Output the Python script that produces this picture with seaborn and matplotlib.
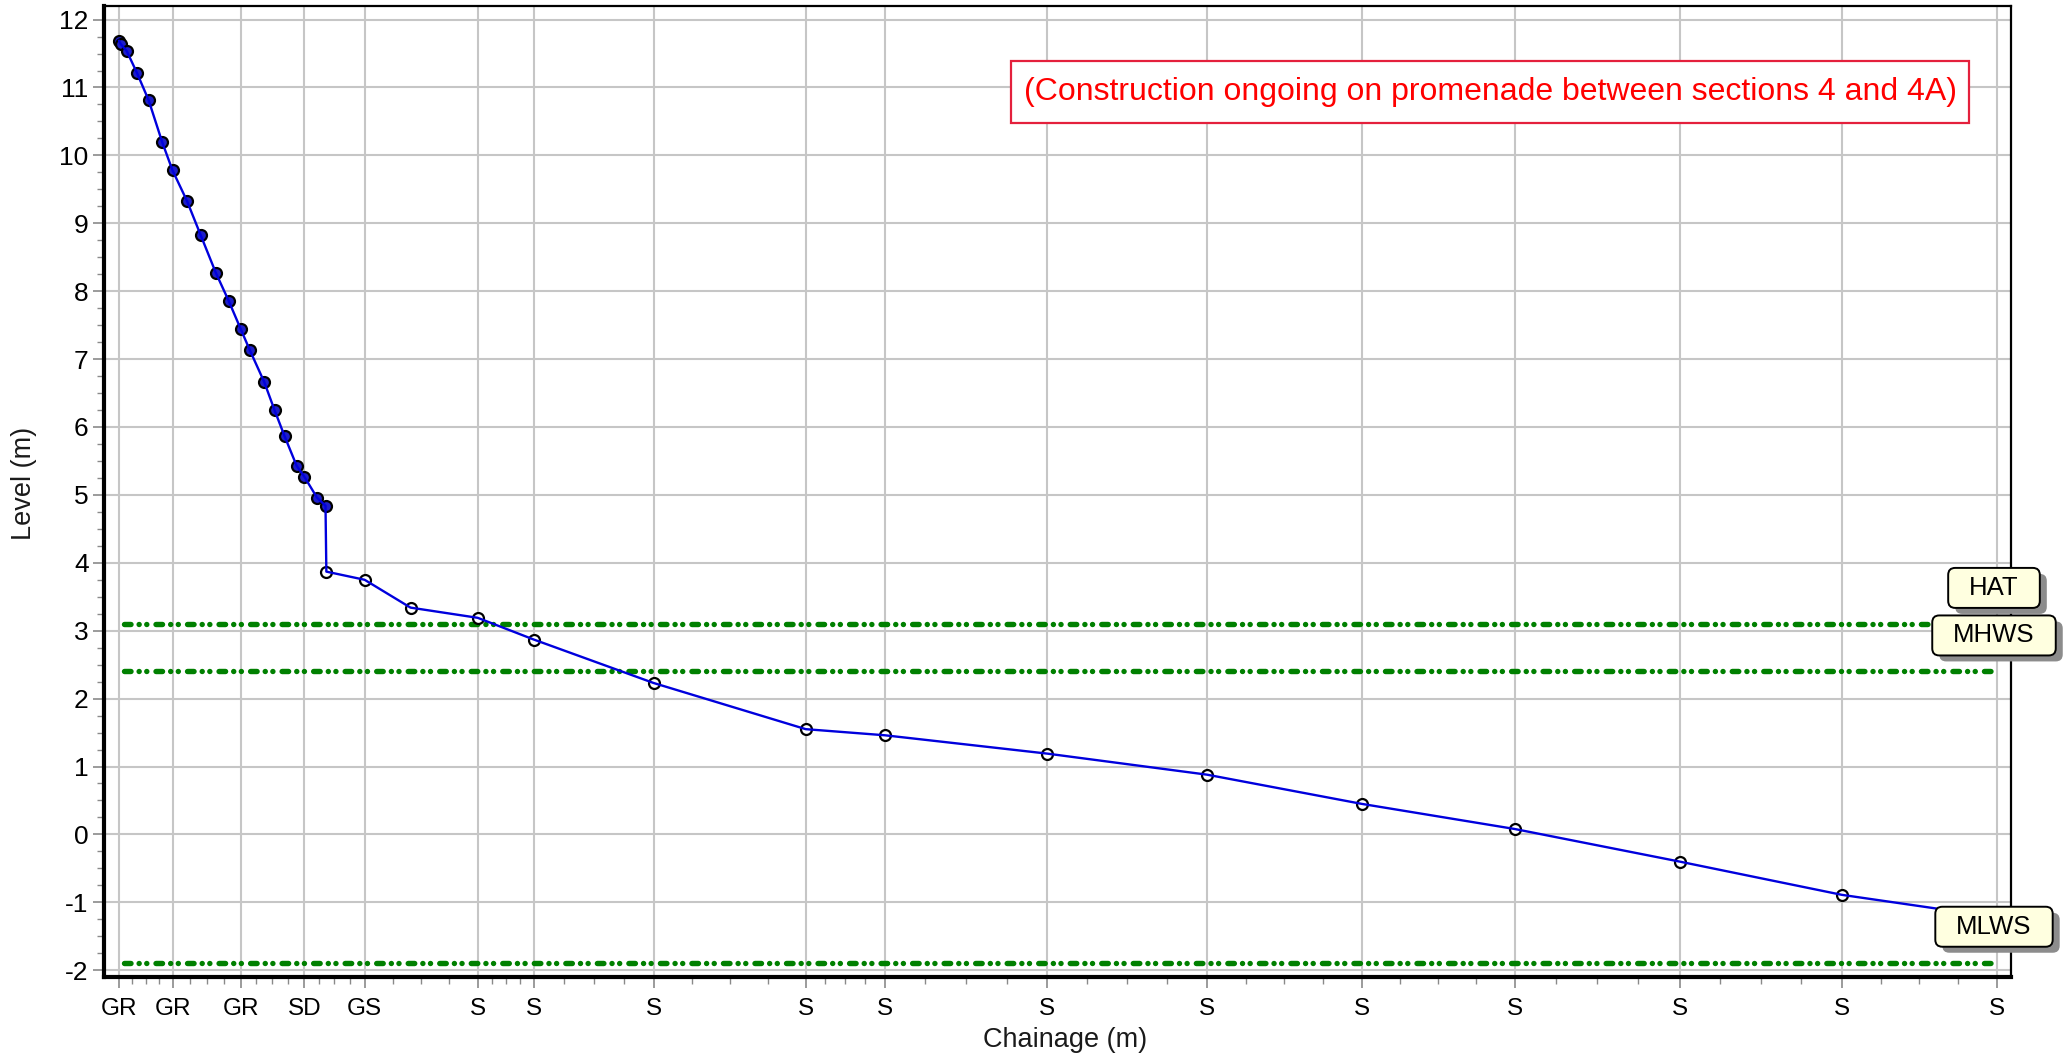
import numpy as np
import pandas as pd
import matplotlib
matplotlib.use("Agg")
import matplotlib.pyplot as plt
import seaborn as sns
from matplotlib.ticker import FixedLocator, MultipleLocator
from matplotlib.patches import FancyBboxPatch, Rectangle
from matplotlib.transforms import IdentityTransform

# ---------------- data ----------------
chainage = [0.0, 0.1, 0.45, 1.05, 1.75, 2.55, 3.15, 4.0, 4.8, 5.7, 6.45, 7.15, 7.7,
            8.55, 9.15, 9.75, 10.45, 10.9, 11.65, 12.15, 12.2, 14.45, 17.15, 21.1,
            24.4, 31.45, 40.4, 45.05, 54.6, 64.0, 73.1, 82.1, 91.8, 101.35, 110.45]
level = [11.69, 11.64, 11.54, 11.22, 10.81, 10.19, 9.78, 9.33, 8.83, 8.27, 7.86, 7.45,
         7.13, 6.66, 6.25, 5.86, 5.43, 5.27, 4.96, 4.84, 3.87, 3.75, 3.34, 3.19, 2.87,
         2.23, 1.55, 1.46, 1.19, 0.88, 0.45, 0.08, -0.40, -0.89, -1.22]
codes = ["GR"] * 17 + ["SD"] * 4 + ["GS"] * 2 + ["S"] * 12
tick_idx = [0, 6, 11, 17, 21] + list(range(23, 35))
n_filled = 20

tide_names = ["HAT", "MHWS", "MLWS"]
tide_levels = [3.10, 2.40, -1.89]
tide_extent = [0.3, 110.45]

note = "(Construction ongoing on promenade between sections 4 and 4A)"
x_label = "Chainage (m)"
y_label = "Level (m)"
y_ticks = list(range(-2, 13))

# ---------------- style ----------------
sns.set_theme(style="ticks")
plt.rcParams["font.family"] = ["Liberation Sans", "DejaVu Sans"]

W, H = 2067, 1056
fig = plt.figure(figsize=(W / 100, H / 100), dpi=100)
fig.patch.set_facecolor("white")
ax_l, ax_r, ax_t, ax_b = 104, 2011, 6, 977
ax = fig.add_axes([ax_l / W, 1 - ax_b / H, (ax_r - ax_l) / W, (ax_b - ax_t) / H])
ax.set_facecolor("white")

df = pd.DataFrame({"chainage": chainage, "level": level, "code": codes})
df["filled"] = df.index < n_filled

# grid
ax.grid(True, which="major", color="#c6c6c6", lw=1.5)
ax.set_axisbelow(True)

# tide lines
for lv in tide_levels:
    ax.plot(tide_extent, [lv, lv], color="#008000", lw=3.9,
            linestyle=(0, (1.2, 1.5, 0.01, 1.4, 0.01, 1.7)),
            dash_capstyle="round", zorder=2)

# markers
sns.scatterplot(data=df[df["filled"]], x="chainage", y="level", ax=ax, s=62,
                color="#1e1ec8", edgecolor="black", linewidth=1.6, zorder=3,
                legend=False)
sns.scatterplot(data=df[~df["filled"]], x="chainage", y="level", ax=ax, s=62,
                color="white", edgecolor="black", linewidth=1.6, zorder=3,
                legend=False)
# profile line
sns.lineplot(data=df, x="chainage", y="level", ax=ax, sort=False, estimator=None,
             color="#0000dd", lw=1.7, zorder=4)

ax.set_xlim(-0.88, 111.3)
ax.set_ylim(-2.1, 12.2)

# x ticks
major_x = [chainage[i] for i in tick_idx]
ax.set_xticks(major_x)
ax.set_xticklabels([codes[i] for i in tick_idx])
minor_x = []
for a, b in zip(major_x[:-1], major_x[1:]):
    minor_x += [a + (b - a) * k / 4 for k in (1, 2, 3)]
ax.xaxis.set_minor_locator(FixedLocator(minor_x))

# y ticks
ax.set_yticks(y_ticks)
ax.set_yticklabels([str(v) for v in y_ticks])
ax.yaxis.set_minor_locator(MultipleLocator(0.25))

ax.tick_params(which="major", direction="out", length=8, width=1.2, color="#8a8a8a",
               labelcolor="black", pad=3)
ax.tick_params(which="minor", direction="out", length=5, width=1.0, color="#8a8a8a")
ax.tick_params(axis="x", which="both", bottom=True, top=False, labelsize=17.5, pad=7)
ax.tick_params(axis="y", which="both", left=True, right=False, labelsize=19)

for s in ["left", "bottom"]:
    ax.spines[s].set_linewidth(3.0)
    ax.spines[s].set_color("black")
for s in ["top", "right"]:
    ax.spines[s].set_linewidth(1.6)
    ax.spines[s].set_color("black")
    ax.spines[s].set_visible(True)

ax.set_xlabel(x_label, fontsize=19.5, color="#1a1a1a")
ax.set_ylabel(y_label, fontsize=19.5, color="#1a1a1a")
ax.xaxis.label.set_va("center")
ax.yaxis.label.set_va("center")
ax.xaxis.set_label_coords(0.504, (ax_b - 1040) / (ax_b - ax_t))
ax.yaxis.set_label_coords((24 - ax_l) / (ax_r - ax_l), 0.508)

# note box (pixel coords)
idt = IdentityTransform()
note_box = Rectangle((1011, H - 123), 958, 62, transform=idt, fc="white",
                     ec="#e4203c", lw=1.6, zorder=5)
fig.add_artist(note_box)
fig.text(1490, H - 92, note, transform=idt, fontsize=23, color="#ff0000",
         ha="center", va="center", zorder=6)

# tide callouts
renderer = fig.canvas.get_renderer()
cx = 1994
for name, lv in zip(tide_names, tide_levels):
    cy = ax.transData.transform((0, lv))[1] + 36
    t = fig.text(cx, cy, name, transform=idt, fontsize=18.5, color="black",
                 ha="center", va="center", zorder=9)
    tw = t.get_window_extent(renderer).width
    bw, bh = tw + 42, 40
    shadow = FancyBboxPatch((cx - bw / 2 + 7, cy - bh / 2 - 6), bw, bh,
                            boxstyle="round,pad=0,rounding_size=7", transform=idt,
                            fc="#8c8c8c", ec="none", zorder=7)
    box = FancyBboxPatch((cx - bw / 2, cy - bh / 2), bw, bh,
                         boxstyle="round,pad=0,rounding_size=7", transform=idt,
                         fc="#ffffe0", ec="black", lw=1.4, zorder=8)
    fig.add_artist(shadow)
    fig.add_artist(box)

fig.savefig("out.png", dpi=100)
